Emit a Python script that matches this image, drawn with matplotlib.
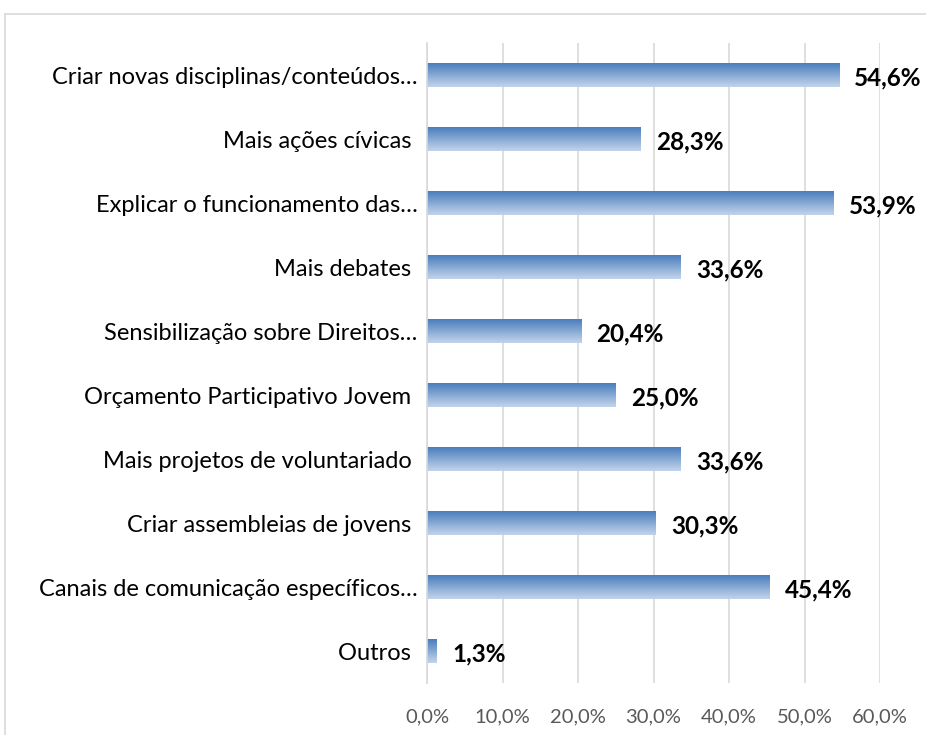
import numpy as np
import matplotlib.pyplot as plt
from matplotlib.colors import LinearSegmentedColormap
from matplotlib.patches import Rectangle

plt.rcParams['font.family'] = ['Lato', 'DejaVu Sans']

categories = ['Criar novas disciplinas/conteúdos…', 'Mais ações cívicas ',
              'Explicar o funcionamento das…', 'Mais debates ',
              'Sensibilização sobre Direitos…', 'Orçamento Participativo Jovem ',
              'Mais projetos de voluntariado ', 'Criar assembleias de jovens ',
              'Canais de comunicação específicos…', 'Outros ']
values = [54.6, 28.3, 53.9, 33.6, 20.4, 25.0, 33.6, 30.3, 45.4, 1.3]
xticks = [0, 10, 20, 30, 40, 50, 60]

fig = plt.figure(figsize=(9.26, 7.35), dpi=100)
# chart border
fig.add_artist(Rectangle((5 / 926, -0.01), 1.0, 1 - 14 / 735 + 0.01,
                         transform=fig.transFigure, fill=False,
                         edgecolor='#d9d9d9', linewidth=1.2))

ax = fig.add_axes([427 / 926, 1 - 683 / 735, (880 - 427) / 926, (683 - 43) / 735])

y = np.arange(len(categories))
bars = ax.barh(y, values, height=0.36, color='none')

# dark blue at the top of each bar, fading to light blue at the bottom
cmap = LinearSegmentedColormap.from_list('grad', ['#c3d4ec', '#4a7ebb'])
grad = np.linspace(1, 0, 64).reshape(-1, 1)
for b in bars:
    x0, y0 = b.get_x(), b.get_y()
    w, h = b.get_width(), b.get_height()
    ax.imshow(grad, cmap=cmap, aspect='auto', origin='upper',
              extent=(x0, x0 + w, y0 + h, y0), zorder=2, interpolation='bicubic')

for yi, v in zip(y, values):
    ax.text(v + 2.0, yi + 0.05, f'{v:.1f}%'.replace('.', ','), va='center', ha='left',
            fontsize=17.5, fontweight='bold', color='black', zorder=3)

ax.set_xlim(0, 60)
ax.set_ylim(len(categories) - 0.5, -0.5)
ax.set_xticks(xticks)
ax.set_xticklabels([f'{t:.1f}%'.replace('.', ',') for t in xticks], fontsize=14.5, color='#595959')
ax.set_yticks(y)
ax.set_yticklabels(categories, fontsize=17, color='black')
ax.tick_params(axis='both', length=0)
ax.tick_params(axis='x', pad=18)
ax.tick_params(axis='y', pad=7)
ax.grid(axis='x', color='#d9d9d9', linewidth=1.2, zorder=0)
ax.set_axisbelow(True)
for s in ['top', 'right', 'bottom']:
    ax.spines[s].set_visible(False)
ax.spines['left'].set_color('#d9d9d9')
ax.spines['left'].set_linewidth(1.2)

fig.savefig('out.png', dpi=100)
